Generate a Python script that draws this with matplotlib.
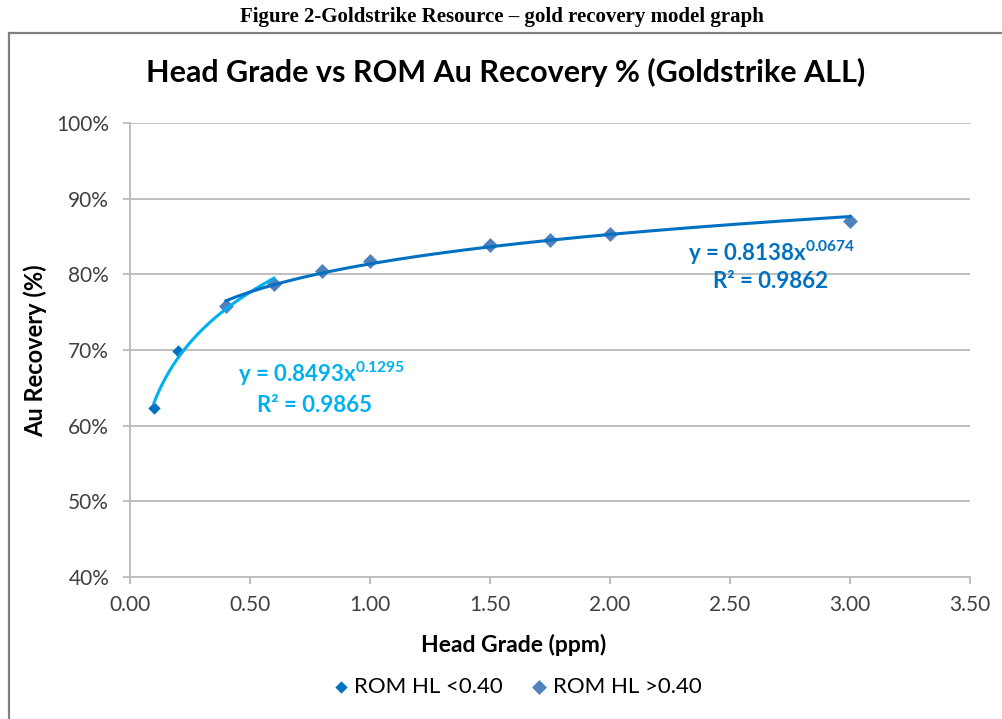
import numpy as np
import matplotlib
matplotlib.use("Agg")
import matplotlib.pyplot as plt
from matplotlib.lines import Line2D
from matplotlib.ticker import FuncFormatter

# ---- data ----
grade_low = [0.10, 0.20]
rec_low = [0.624, 0.699]
grade_high = [0.40, 0.60, 0.80, 1.00, 1.50, 1.75, 2.00, 3.00]
rec_high = [0.758, 0.787, 0.804, 0.818, 0.839, 0.846, 0.853, 0.870]

# trendline (power) coefficients as shown on the chart
fit1_a, fit1_b, fit1_r2 = 0.8493, 0.1295, 0.9865
fit1_range = [0.10, 0.60]
fit2_a, fit2_b, fit2_r2 = 0.8138, 0.0674, 0.9862
fit2_range = [0.40, 3.00]

xticks = [0.0, 0.5, 1.0, 1.5, 2.0, 2.5, 3.0, 3.5]
yticks = [0.4, 0.5, 0.6, 0.7, 0.8, 0.9, 1.0]

fig_title = "Figure 2-Goldstrike Resource \u2013 gold recovery model graph"
chart_title = "Head Grade vs ROM Au Recovery % (Goldstrike ALL)"
xlabel = "Head Grade (ppm)"
ylabel = "Au Recovery (%)"
legend_labels = ["ROM HL <0.40", "ROM HL >0.40"]

# ---- styling ----
SANS = ["Lato", "DejaVu Sans"]
c_low = "#0070C0"
c_high = "#4F81BD"
c_fit1 = "#00B0F0"
c_fit2 = "#0070C0"
c_text = "#404040"
c_grid = "#BFBFBF"

W, H = 1003, 719
fig = plt.figure(figsize=(W / 100, H / 100), dpi=100)
fig.patch.set_facecolor("white")

# outer frame (partial box)
fig.add_artist(Line2D([9 / W, 1.0], [1 - 33 / H, 1 - 33 / H],
                      transform=fig.transFigure, color="#808080", lw=1.6))
fig.add_artist(Line2D([9 / W, 9 / W], [0, 1 - 33 / H],
                      transform=fig.transFigure, color="#808080", lw=1.6))

fig.text(0.5, 1 - 17 / H, fig_title, ha="center", va="center",
         family=["Liberation Serif"], weight="bold", fontsize=15, color="black")
fig.text(506 / W, 1 - 72 / H, chart_title, ha="center", va="center",
         family=SANS, weight="bold", fontsize=22, color="#000000")

ax = fig.add_axes([130 / W, 1 - 577 / H, 840 / W, 454 / H])
ax.set_xlim(0, 3.5)
ax.set_ylim(0.4, 1.0)
ax.set_xticks(xticks)
ax.set_yticks(yticks)
ax.xaxis.set_major_formatter(FuncFormatter(lambda v, p: f"{v:.2f}"))
ax.yaxis.set_major_formatter(FuncFormatter(lambda v, p: f"{v*100:.0f}%"))
ax.grid(axis="y", color=c_grid, lw=1.4)
ax.set_axisbelow(True)
for s in ["top", "right"]:
    ax.spines[s].set_visible(False)
for s in ["left", "bottom"]:
    ax.spines[s].set_color(c_grid)
    ax.spines[s].set_linewidth(1.4)
ax.tick_params(axis="both", colors=c_grid, length=5, width=1.4, labelcolor=c_text,
               labelsize=15)
ax.tick_params(axis="x", pad=8)
ax.tick_params(axis="y", pad=10)
for lbl in ax.get_xticklabels() + ax.get_yticklabels():
    lbl.set_family(SANS)

ax.scatter(grade_low, rec_low, marker="D", s=6.3 ** 2, color=c_low, zorder=3,
           label=legend_labels[0], linewidths=0)
ax.scatter(grade_high, rec_high, marker="D", s=7.6 ** 2, color=c_high, zorder=3,
           label=legend_labels[1], linewidths=0)

x1 = np.linspace(fit1_range[0], fit1_range[1], 200)
ax.plot(x1, fit1_a * x1 ** fit1_b, color=c_fit1, lw=2.2, zorder=4)
x2 = np.linspace(fit2_range[0], fit2_range[1], 200)
ax.plot(x2, fit2_a * x2 ** fit2_b, color=c_fit2, lw=2.2, zorder=4)

plt.rcParams["mathtext.default"] = "regular"
eq_kw = dict(family=SANS, weight="bold", fontsize=16, ha="center", va="center")
ax.text(0.80, 0.668, f"y = {fit1_a:.4f}x$^{{{fit1_b:.4f}}}$", color=c_fit1, **eq_kw)
ax.text(0.77, 0.627, f"R\u00b2 = {fit1_r2:.4f}", color=c_fit1, **eq_kw)
ax.text(2.675, 0.829, f"y = {fit2_a:.4f}x$^{{{fit2_b:.4f}}}$", color=c_fit2, **eq_kw)
ax.text(2.67, 0.790, f"R\u00b2 = {fit2_r2:.4f}", color=c_fit2, **eq_kw)

ax.set_xlabel(xlabel, family=SANS, weight="bold", fontsize=16.5, color="#000000")
ax.xaxis.set_label_coords((514 - 130) / 840, (577 - 645) / 454)
ax.set_ylabel(ylabel, family=SANS, weight="bold", fontsize=17, color="#000000")
ax.yaxis.set_label_coords((35 - 130) / 840, (577 - 351) / 454)
ax.yaxis.label.set_va("center")
ax.xaxis.label.set_va("center")

leg = ax.legend(loc="center", bbox_to_anchor=((516 - 130) / 840, (577 - 687) / 454),
                ncol=2, frameon=False,
                prop={"family": SANS, "size": 16}, handletextpad=0.15,
                columnspacing=1.2, handlelength=0.9)
for t in leg.get_texts():
    t.set_color("#000000")

fig.savefig("out.png", dpi=100, facecolor="white")
